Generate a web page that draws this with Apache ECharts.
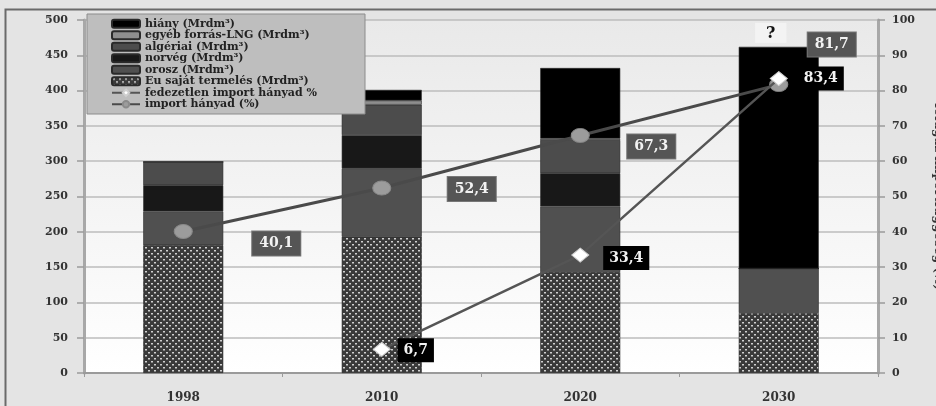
<!DOCTYPE html>
<html>
<head>
<meta charset="utf-8">
<script src="https://cdn.jsdelivr.net/npm/echarts@6/dist/echarts.min.js"></script>
<style>
  html, body { margin: 0; padding: 0; background: #e4e4e4; }
  #chart { width: 936px; height: 406px; }
</style>
</head>
<body>
<div id="chart"></div>
<script>
// Years on the category axis
const years = ['1998', '2010', '2020', '2030'];

// Gas supply by source, Mrdm³ (stacked bottom to top)
const sajatTermeles = [181, 193, 143, 85];   // Eu saját termelés
const orosz        = [48, 97, 93, 63];
const norveg       = [37, 47, 47, 0];
const algeriai     = [33, 43, 47, 0];
const egyebLNG     = [0, 6, 2, 0];
const hiany        = [0, 15, 100, 314];

// Shares, % (right axis)
const importHanyad     = [40.1, 52.4, 67.3, 81.7];
const fedezetlenImport = [null, 6.7, 33.4, 83.4];

// Tick labels
const leftTicks = { min: 0, max: 500, interval: 50 };
const rightTicks = { min: 0, max: 100, interval: 10 };

// Label offsets for the value boxes next to the line points
const importLabelOffsets = [[93, 12], [90, 1], [71, 11], [53, -40]];
const fedezetlenLabelOffsets = [null, [34, 1], [46, 3], [42, 0]];

// Dotted hatch fill used for own production
function hatchPattern() {
  const c = document.createElement('canvas');
  c.width = 6; c.height = 6;
  const g = c.getContext('2d');
  g.fillStyle = '#3a3a3a';
  g.fillRect(0, 0, 6, 6);
  g.fillStyle = '#d0d0d0';
  g.fillRect(1, 1, 2, 1.5);
  g.fillRect(4, 4, 2, 1.5);
  return c;
}

const serif = 'DejaVu Serif';
const fmt = v => String(v).replace('.', ',');

const chart = echarts.init(document.getElementById('chart'), null, { renderer: 'canvas' });

function barSeries(name, data, color, extra) {
  return Object.assign({
    name, type: 'bar', stack: 'ellatas', data,
    barWidth: 80,
    itemStyle: { color, borderColor: '#2a2a2a', borderWidth: 0.6 },
    emphasis: { disabled: true }
  }, extra || {});
}

const hianyData = hiany.map((v, i) => i === 3 ? {
  value: v,
  label: {
    show: true, position: 'top', distance: 4, offset: [-8, 0],
    formatter: '?', fontFamily: serif, fontWeight: 'bold', fontSize: 16, color: '#111',
    backgroundColor: '#f3f3f3', padding: [3, 11, 1, 11]
  }
} : v);

const option = {
  backgroundColor: '#e4e4e4',
  animation: false,
  graphic: [{
    type: 'rect', left: 3, top: 7, silent: true,
    shape: { width: 960, height: 420 },
    style: { fill: 'none', stroke: '#6a6a6a', lineWidth: 2 }
  }],
  grid: {
    left: 84, right: 58, top: 20, bottom: 33, show: true, borderWidth: 0,
    outerBoundsMode: 'none', containLabel: false,
    backgroundColor: new echarts.graphic.LinearGradient(0, 0, 0, 1, [
      { offset: 0, color: '#e9e9e9' }, { offset: 1, color: '#ffffff' }
    ])
  },
  legend: {
    orient: 'vertical', left: 87, top: 14,
    backgroundColor: '#bebebe', borderColor: '#8c8c8c', borderWidth: 1,
    padding: [4, 8, 4, 24], itemGap: 0, itemWidth: 28, itemHeight: 8,
    textStyle: { fontFamily: serif, fontWeight: 'bold', fontSize: 11, color: '#222', lineHeight: 11.5, width: 212 },
    data: ['hiány (Mrdm³)', 'egyéb forrás-LNG (Mrdm³)', 'algériai (Mrdm³)', 'norvég (Mrdm³)',
           'orosz (Mrdm³)', 'Eu saját termelés (Mrdm³)', 'fedezetlen import hányad %', 'import hányad (%)']
  },
  xAxis: {
    type: 'category', data: years,
    axisLine: { lineStyle: { color: '#9a9a9a', width: 2 } },
    axisTick: { show: true, length: 4, lineStyle: { color: '#9a9a9a' } },
    axisLabel: { margin: 19, fontFamily: serif, fontWeight: 'bold', fontSize: 12, color: '#333' }
  },
  yAxis: [{
    type: 'value', min: leftTicks.min, max: leftTicks.max, interval: leftTicks.interval,
    axisLine: { show: true, lineStyle: { color: '#a8a8a8', width: 3 } },
    axisTick: { show: true, length: 7, lineStyle: { color: '#9a9a9a', width: 1.5 } },
    axisLabel: { margin: 16, fontFamily: serif, fontWeight: 'bold', fontSize: 11, color: '#333' },
    splitLine: { lineStyle: { color: '#bdbdbd', width: 1.5 } }
  }, {
    type: 'value', min: rightTicks.min, max: rightTicks.max, interval: rightTicks.interval,
    position: 'right',
    name: 'földgáz importfüggőség (%)', nameLocation: 'middle', nameRotate: -90, nameGap: 54,
    nameTextStyle: { fontFamily: serif, fontWeight: 'bold', fontSize: 12, color: '#333' },
    axisLine: { show: true, lineStyle: { color: '#a8a8a8', width: 3 } },
    axisTick: { show: true, length: 7, lineStyle: { color: '#9a9a9a', width: 1.5 } },
    axisLabel: { margin: 14, fontFamily: serif, fontWeight: 'bold', fontSize: 11, color: '#333' },
    splitLine: { show: false }
  }],
  series: [
    barSeries('Eu saját termelés (Mrdm³)', sajatTermeles, { image: hatchPattern(), repeat: 'repeat' }),
    barSeries('orosz (Mrdm³)', orosz, '#505050'),
    barSeries('norvég (Mrdm³)', norveg, '#181818'),
    barSeries('algériai (Mrdm³)', algeriai, '#4c4c4c'),
    barSeries('egyéb forrás-LNG (Mrdm³)', egyebLNG, '#8e8e8e'),
    barSeries('hiány (Mrdm³)', hianyData, '#000000'),
    {
      name: 'import hányad (%)', type: 'line', yAxisIndex: 1, z: 5,
      data: importHanyad.map((v, i) => ({ value: v, label: { offset: importLabelOffsets[i] } })),
      lineStyle: { color: '#4a4a4a', width: 3 },
      itemStyle: { color: '#9c9c9c', borderColor: '#8a8a8a', borderWidth: 1 },
      symbol: 'circle', symbolSize: [18, 14],
      label: {
        show: true, position: 'inside', formatter: p => fmt(p.value),
        fontFamily: serif, fontWeight: 'bold', fontSize: 14, color: '#f2f2f2',
        backgroundColor: '#555555', borderColor: '#777', borderWidth: 1, padding: [6, 7, 4, 7]
      },
      emphasis: { disabled: true }
    },
    {
      name: 'fedezetlen import hányad %', type: 'line', yAxisIndex: 1, z: 6,
      data: fedezetlenImport.map((v, i) => v === null ? '-' : ({ value: v, label: { offset: fedezetlenLabelOffsets[i] } })),
      lineStyle: { color: '#555555', width: 2.5 },
      itemStyle: { color: '#ffffff', borderColor: '#cfcfcf', borderWidth: 1 },
      symbol: 'diamond', symbolSize: [17, 14],
      label: {
        show: true, position: 'inside', formatter: p => fmt(p.value),
        fontFamily: serif, fontWeight: 'bold', fontSize: 14, color: '#f2f2f2',
        backgroundColor: '#000000', padding: [6, 6, 4, 6]
      },
      emphasis: { disabled: true }
    }
  ]
};

chart.setOption(option);
</script>
</body>
</html>
